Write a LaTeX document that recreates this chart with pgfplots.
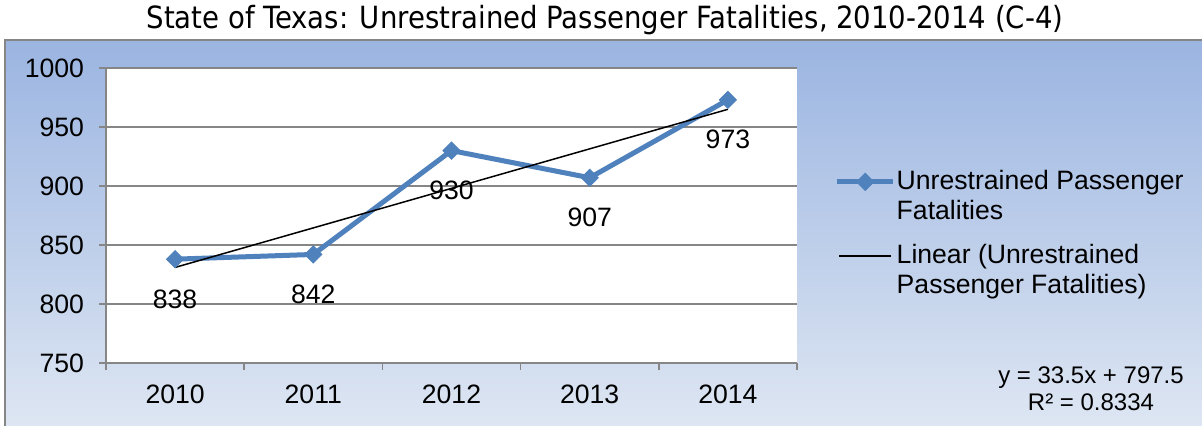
\documentclass[border=0pt]{standalone}
\usepackage{pgfplots}
\pgfplotsset{compat=1.18}
\usepackage{fontspec}
\setmainfont{Liberation Sans}
\newfontfamily\titlefont{DejaVu Sans Condensed}
\definecolor{serblue}{HTML}{4F81BD}
\definecolor{axgray}{HTML}{868686}
\definecolor{bgtop}{HTML}{9BB5E1}
\definecolor{bgbot}{HTML}{DFE7F3}
\pgfplotsset{
  markleg/.style={legend image code/.code={
    \draw[##1] (0pt,7pt) -- (26.5pt,7pt);
    \draw[##1, overlay] (26.5pt,7pt) -- (28pt,7pt);
    \path[##1] plot coordinates {(14pt,7pt)};}},
  lineleg/.style={legend image code/.code={
    \draw[##1] (1pt,7pt) -- (26.5pt,7pt);
    \draw[##1, overlay] (26.5pt,7pt) -- (27pt,7pt);}},
}
\begin{document}
\begin{tikzpicture}[x=1pt,y=1pt]
% page is 1202x425 px at 0.5pt per px
\clip (0,0) rectangle (601,212.5);
\shade[top color=bgtop, bottom color=bgbot] (2.5,-5) rectangle (620,192.5);
\draw[axgray, line width=1pt] (2.5,-5) rectangle (620,192.5);
\node[font=\titlefont\fontsize{15.3}{18}\selectfont, inner sep=0pt] at (302.5,202.5)
  {State of Texas: Unrestrained Passenger Fatalities, 2010-2014 (C-4)};
\node[font=\fontsize{12}{13.5}\selectfont, align=center, inner sep=0pt] at (545.5,18)
  {y = 33.5x + 797.5\\R² = 0.8334};
\begin{axis}[
  at={(53pt,31pt)}, anchor=south west,
  scale only axis, width=345.5pt, height=147.5pt,
  xmin=-0.5, xmax=4.5, ymin=750, ymax=1000,
  ytick={750,800,...,1000},
  xtick={0,...,4}, xticklabels={2010,2011,2012,2013,2014},
  minor xtick={-0.5,0.5,...,4.5},
  every major x tick/.style={draw=none},
  tick align=outside,
  major tick length=3.5pt, minor tick length=3.5pt,
  ymajorgrids,
  grid style={axgray, line width=0.75pt},
  tick style={axgray, line width=0.75pt},
  axis x line*=bottom, axis y line*=left,
  axis line style={axgray, line width=1pt, -},
  axis background/.style={fill=white},
  scaled y ticks=false,
  /pgf/number format/1000 sep={},
  /pgf/number format/assume math mode=true,
  tick label style={font=\fontsize{13.3}{15}\selectfont, text=black},
  xticklabel style={yshift=-4pt},
  yticklabel style={xshift=-4pt},
  clip=false,
  legend style={at={(1.054,0.67)}, anchor=north west, draw=none, fill=none,
    font=\fontsize{13.3}{15}\selectfont, cells={align=left}, row sep=7pt,
    inner sep=0pt},
  legend cell align=left,
]
\addplot[serblue, line width=2.5pt, mark=square*, mark size=3pt,
  mark options={rotate=45, solid, fill=serblue, draw=serblue, line width=0.5pt},
  nodes near coords,
  every node near coord/.append style={anchor=north, inner sep=0pt, yshift=-15pt,
    font=\fontsize{13.3}{15}\selectfont, text=black},
  markleg]
  coordinates {(0,838) (1,842) (2,930) (3,907) (4,973)};
\addlegendentry{Unrestrained Passenger\\Fatalities}
\addplot[black, line width=0.75pt, mark=none, lineleg]
  coordinates {(0,831) (4,965)};
\addlegendentry{Linear (Unrestrained\\Passenger Fatalities)}
\end{axis}
\end{tikzpicture}
\end{document}
